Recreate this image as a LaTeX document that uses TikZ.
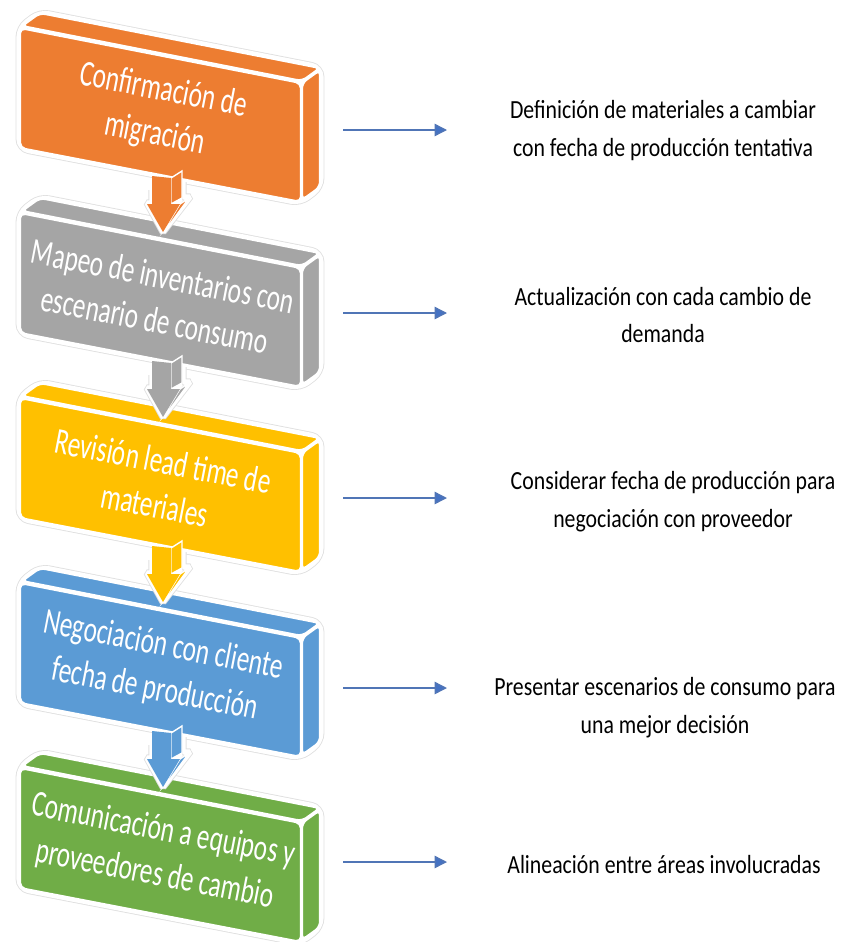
\documentclass[tikz,border=0pt]{standalone}
\usepackage{fontspec}
\setmainfont{Carlito}
\usetikzlibrary{arrows.meta}

\definecolor{naranja}{HTML}{ED7D31}
\definecolor{gris}{HTML}{A5A5A5}
\definecolor{amarillo}{HTML}{FFC000}
\definecolor{azul}{HTML}{5B9BD5}
\definecolor{verde}{HTML}{70AD47}
\definecolor{flechaazul}{HTML}{4472C4}

\tikzset{
  caja/.style={draw=white, line width=1.2pt, rounded corners=3pt},
  halo/.style={draw=black!12, line width=5pt, rounded corners=5pt},
  blanco/.style={draw=white, line width=4pt, rounded corners=5pt},
  cajatexto/.style={text=white, align=center, inner sep=0pt,
    font=\fontsize{14.4}{17.6}\selectfont},
  desc/.style={align=center, inner sep=0pt, yscale=1.2,
    font=\fontsize{12.4}{18}\selectfont},
  flecha/.style={flechaazul!80!gray, line width=0.8pt,
    -{Triangle[length=7pt, width=7pt, fill=flechaazul]}}
}

\begin{document}
\begin{tikzpicture}[x=0.2mm,y=-0.2mm]
\useasboundingbox (0,0) rectangle (851,942);

% cajas
\foreach \c/\s/\t [count=\i] in {
    naranja/0/{Confirmación de\\migración},
    gris/185/{Mapeo de inventarios con\\escenario de consumo},
    amarillo/370/{Revisión lead time de\\materiales},
    azul/555/{Negociación con cliente\\fecha de producción},
    verde/740/{Comunicación a equipos y\\proveedores de cambio}}
{
  \begin{scope}[shift={(0,\s)}]
    \draw[halo] (20,148) -- (20,28) -- (40,13) -- (320,68) -- (320,187) -- (300,202) -- cycle;
    \draw[blanco] (20,148) -- (20,28) -- (40,13) -- (320,68) -- (320,187) -- (300,202) -- cycle;
    \fill[\c, caja] (22,26) -- (40,13) -- (320,68) -- (302,81) -- cycle;
    \fill[\c, caja] (302,83) -- (320,70) -- (320,187) -- (302,200) -- cycle;
    \fill[\c, caja] (20,28) -- (301,83) -- (301,202) -- (20,148) -- cycle;
    \node[cajatexto, rotate=-11, yscale=1.45] (b\i) at (159,113) {\t};
  \end{scope}
}

% flechas entre cajas
\foreach \c/\s in {naranja/0, gris/185, amarillo/370, azul/555}
{
  \begin{scope}[shift={(0,\s)}]
    \draw[halo, line width=4pt, rounded corners=1pt] (152,190) -- (152,203) -- (147,203) -- (163,232) -- (190,197) -- (183,197) -- (183,182);
    \draw[blanco, line width=3pt, rounded corners=1pt] (152,190) -- (152,203) -- (147,203) -- (163,232) -- (190,197) -- (183,197) -- (183,182);
    \fill[\c, draw=white, line width=0.8pt] (171,178) -- (182,171) -- (182,198) -- (171,204) -- cycle;
    \fill[\c, draw=white, line width=0.8pt] (180,204) -- (189,198) -- (167,228) -- (163,232) -- cycle;
    \fill[\c] (152,176) -- (171,178) -- (171,204) -- (180,204) -- (163,232) -- (147,204) -- (152,204) -- cycle;
  \end{scope}
}

% textos a la derecha
\foreach \dx/\dy/\d/\ay [count=\i] in {
    663/131/{Definición de materiales a cambiar\\con fecha de producción tentativa}/130,
    663/315/{Actualización con cada cambio de\\demanda}/313,
    673/502/{Considerar fecha de producción para\\negociación con proveedor}/498,
    665/708/{Presentar escenarios de consumo para\\una mejor decisión}/688,
    664/865/{Alineación entre áreas involucradas}/862}
{
  \node[desc] (d\i) at (\dx,\dy) {\d};
  \coordinate (p\i) at (343,\ay);
  \coordinate (q\i) at (447,\ay);
  \draw[flecha] (p\i) -- (q\i);
}
\end{tikzpicture}
\end{document}
